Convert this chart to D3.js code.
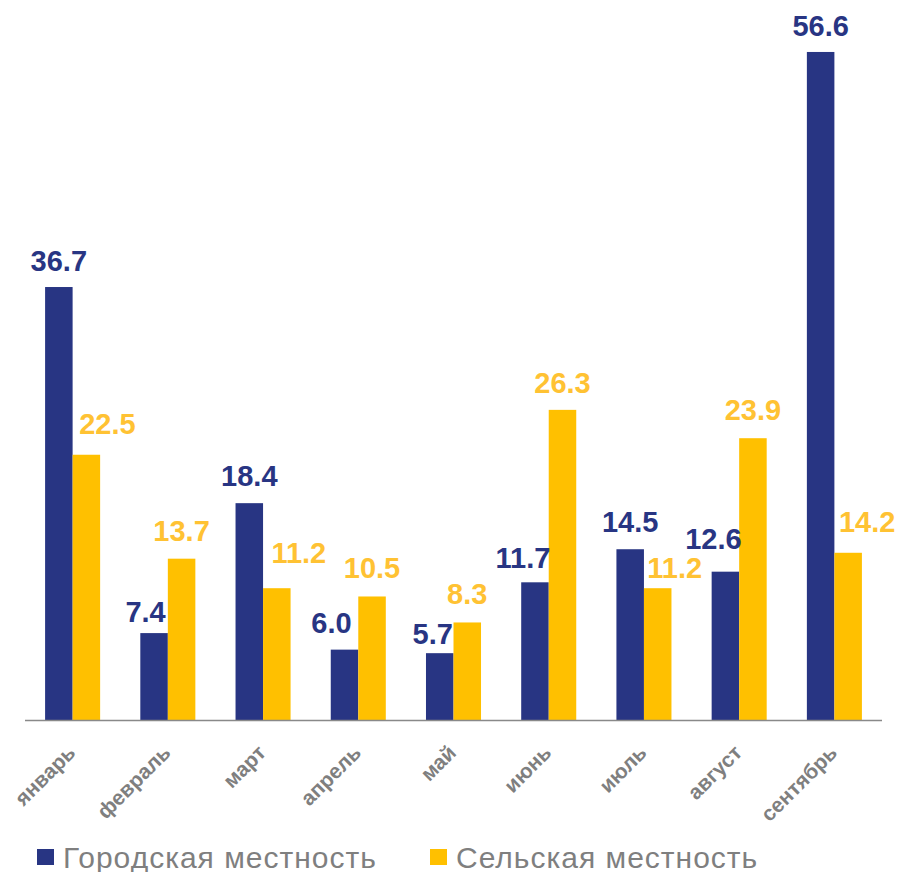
<!DOCTYPE html>
<html>
<head>
<meta charset="utf-8">
<script src="https://cdn.jsdelivr.net/npm/d3@7"></script>
<style>
  html, body { margin: 0; padding: 0; background: #fff; }
  svg { display: block; }
</style>
</head>
<body>
<svg id="chart" width="899" height="872"></svg>
<script>
// ---- data ----
const months = ["январь", "февраль", "март", "апрель", "май", "июнь", "июль", "август", "сентябрь"];
const urbanValues = [36.7, 7.4, 18.4, 6.0, 5.7, 11.7, 14.5, 12.6, 56.6];
const ruralValues = [22.5, 13.7, 11.2, 10.5, 8.3, 26.3, 11.2, 23.9, 14.2];
const seriesNames = ["Городская местность", "Сельская местность"];

// ---- layout / style (label nudges as in the reference: [dx, gap above bar]) ----
const urbanLabelNudge = [[0,16],[-8.5,11],[0,17],[-13,17],[-7,8.7],[-12,14.3],[0,17.3],[-12,23],[0,16]];
const ruralLabelNudge = [[21,21],[0,18],[22,25.7],[0,18],[0,18.7],[0,17.3],[17,10.7],[0,18.3],[19,21]];
const colors = ["#283583", "#FFC000"];
const labelColors = ["#283583", "#FFC233"];
const FONT = "'Liberation Sans', Arial, sans-serif";

const svg = d3.select("#chart");
const x = d3.scaleBand().domain(months).range([25, 882]).paddingInner(0.422).paddingOuter(0.211);
const xs = d3.scaleBand().domain([0, 1]).range([0, x.bandwidth()]);
const y = d3.scaleLinear().domain([0, 61]).range([720.5, 0]);

const series = [urbanValues, ruralValues];
const nudges = [urbanLabelNudge, ruralLabelNudge];

series.forEach((vals, si) => {
  const g = svg.append("g");
  g.selectAll("rect").data(vals).join("rect")
    .attr("x", (d, i) => x(months[i]) + xs(si))
    .attr("y", d => y(d))
    .attr("width", xs.bandwidth())
    .attr("height", d => y(0) - y(d))
    .attr("fill", colors[si]);
});

// axis line
const xAxis = d3.axisBottom(x).tickSize(0).tickFormat("");
const axisG = svg.append("g").attr("transform", `translate(0,${y(0)})`).call(xAxis);
axisG.select(".domain").attr("stroke", "#898989").attr("stroke-width", 1.6).attr("d", "M25,0H882");

// value labels
series.forEach((vals, si) => {
  svg.append("g").selectAll("text").data(vals).join("text")
    .attr("x", (d, i) => x(months[i]) + xs(si) + xs.bandwidth() / 2 + nudges[si][i][0])
    .attr("y", (d, i) => y(d) - nudges[si][i][1])
    .attr("text-anchor", "middle")
    .attr("font-family", FONT)
    .attr("font-weight", "bold")
    .attr("font-size", 29)
    .attr("fill", labelColors[si])
    .text(d => d.toFixed(1));
});

// category labels
svg.append("g").selectAll("text").data(months).join("text")
  .attr("transform", d => `translate(${x(d) + x.bandwidth() / 2 + 4},754) rotate(-45)`)
  .attr("text-anchor", "end")
  .attr("font-family", FONT)
  .attr("font-weight", "bold")
  .attr("font-size", 21)
  .attr("fill", "#7f7f7f")
  .text(d => d);

// legend
const legendX = [37, 430];
seriesNames.forEach((name, si) => {
  const lg = svg.append("g").attr("transform", `translate(${legendX[si]},849)`);
  lg.append("rect").attr("width", 17).attr("height", 16).attr("fill", colors[si]);
  lg.append("text")
    .attr("x", 26).attr("y", 18.5)
    .attr("font-family", FONT)
    .attr("font-size", 30)
    .attr("letter-spacing", 1)
    .attr("fill", "#7f7f7f")
    .text(name);
});
</script>
</body>
</html>
